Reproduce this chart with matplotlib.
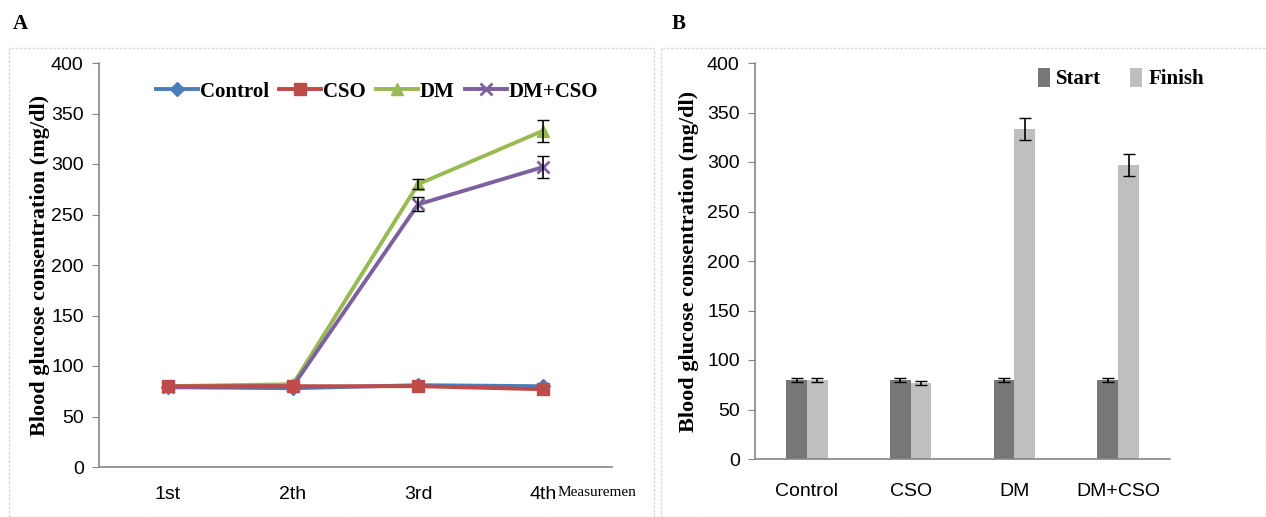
import matplotlib
matplotlib.use("Agg")
import matplotlib.pyplot as plt
import numpy as np
from matplotlib.patches import Rectangle
from matplotlib import font_manager

# data ----------------------------------------------------------------------
times = ["1st", "2th", "3rd", "4th"]
control = [79, 78, 81, 80]
cso = [80, 80, 80, 77]
dm = [80, 82, 280, 333]
dm_cso = [79, 80, 260, 297]
dm_err = [0, 0, 5, 11]
dm_cso_err = [0, 0, 7, 11]

groups = ["Control", "CSO", "DM", "DM+CSO"]
start = [80, 80, 80, 80]
finish = [80, 77, 333, 297]
start_err = [2, 2, 2, 2]
finish_err = [2, 2, 11, 11]

# fonts -----------------------------------------------------------------------
names = {f.name for f in font_manager.fontManager.ttflist}
tick_font = "Liberation Sans Narrow" if "Liberation Sans Narrow" in names else "Liberation Sans"
serif = "Liberation Serif"
axis_grey = "#868686"

fig = plt.figure(figsize=(12.66, 5.17), dpi=100)

# panel frames
fig.patches.append(Rectangle((9/1266, 0), 645/1266, 1 - 48/517, transform=fig.transFigure,
                             fill=False, edgecolor="#d9d9d9", lw=1, ls=(0, (2, 1))))
fig.patches.append(Rectangle((661/1266, 0), 605/1266, 1 - 48/517, transform=fig.transFigure,
                             fill=False, edgecolor="#d9d9d9", lw=1, ls=(0, (2, 1))))
fig.text(20/1266, 1 - 24/517, "A", family=serif, weight="bold", fontsize=15, va="center", ha="center")
fig.text(679/1266, 1 - 24/517, "B", family=serif, weight="bold", fontsize=15, va="center", ha="center")


def style_axes(ax):
    for s in ["top", "right"]:
        ax.spines[s].set_visible(False)
    for s in ["left", "bottom"]:
        ax.spines[s].set_color(axis_grey)
        ax.spines[s].set_linewidth(1.2)
    ax.set_ylim(0, 400)
    ax.set_yticks(range(0, 401, 50))
    ax.tick_params(axis="y", length=5, color=axis_grey, labelsize=14, pad=6)
    ax.tick_params(axis="x", length=0, labelsize=14, pad=14)
    for lab in ax.get_xticklabels() + ax.get_yticklabels():
        lab.set_family(tick_font)
    ax.set_ylabel("Blood glucose consentration (mg/dl)", family=serif,
                  weight="bold", fontsize=16)


# A: line chart ---------------------------------------------------------------
ax1 = fig.add_axes([99/1266, 1 - 467/517, 513/1266, 404/517])
x = np.arange(len(times))
ax1.plot(x, control, color="#4A7EBB", lw=2.8, marker="D", ms=7, label="Control", zorder=3)
ax1.plot(x, cso, color="#BE4B48", lw=2.8, marker="s", ms=9, label="CSO", zorder=4)
ax1.plot(x, dm, color="#98B954", lw=2.8, marker="^", ms=9, label="DM", zorder=3)
ax1.plot(x, dm_cso, color="#7D60A0", lw=2.8, marker="x", ms=9, mew=2, label="DM+CSO", zorder=3)
ax1.errorbar(x[2:], dm[2:], yerr=dm_err[2:], fmt="none", ecolor="black", capsize=4, lw=1.2, zorder=5)
ax1.errorbar(x[2:], dm_cso[2:], yerr=dm_cso_err[2:], fmt="none", ecolor="black", capsize=4, lw=1.2, zorder=5)
ax1.set_xlim(-0.55, 3.55)
ax1.set_xticks(x)
ax1.set_xticklabels(times)
style_axes(ax1)
ax1.yaxis.set_label_coords(-0.095, 0.5)
leg = ax1.legend(loc="upper center", bbox_to_anchor=(0.542, 1.0), ncol=4, frameon=False,
                 prop={"family": serif, "weight": "bold", "size": 15},
                 handlelength=2.0, handletextpad=0.1, columnspacing=0.5)
fig.text(597/1266, 1 - 493/517, "Measuremen", family=serif, fontsize=11, ha="center", va="center")

# B: bar chart ----------------------------------------------------------------
ax2 = fig.add_axes([755/1266, 1 - 459/517, 415/1266, 396/517])
xb = np.arange(len(groups))
w = 0.2
ax2.bar(xb - w/2, start, w, color="#777777", label="Start", zorder=2)
ax2.bar(xb + w/2, finish, w, color="#BFBFBF", label="Finish", zorder=2)
ax2.errorbar(xb - w/2, start, yerr=start_err, fmt="none", ecolor="black", capsize=4, lw=1.2, zorder=3)
ax2.errorbar(xb + w/2, finish, yerr=finish_err, fmt="none", ecolor="black", capsize=4, lw=1.2, zorder=3)
ax2.set_xlim(-0.5, 3.5)
ax2.set_xticks(xb)
ax2.set_xticklabels(groups)
style_axes(ax2)
ax2.tick_params(axis="x", pad=17)
ax2.yaxis.set_label_coords(-0.135, 0.5)
ax2.legend(loc="upper right", bbox_to_anchor=(1.127, 1.035), ncol=2, frameon=False,
           prop={"family": serif, "weight": "bold", "size": 15},
           handlelength=0.6, handleheight=1.0, handletextpad=0.3, columnspacing=1.35)

fig.savefig("out.png", dpi=100)
